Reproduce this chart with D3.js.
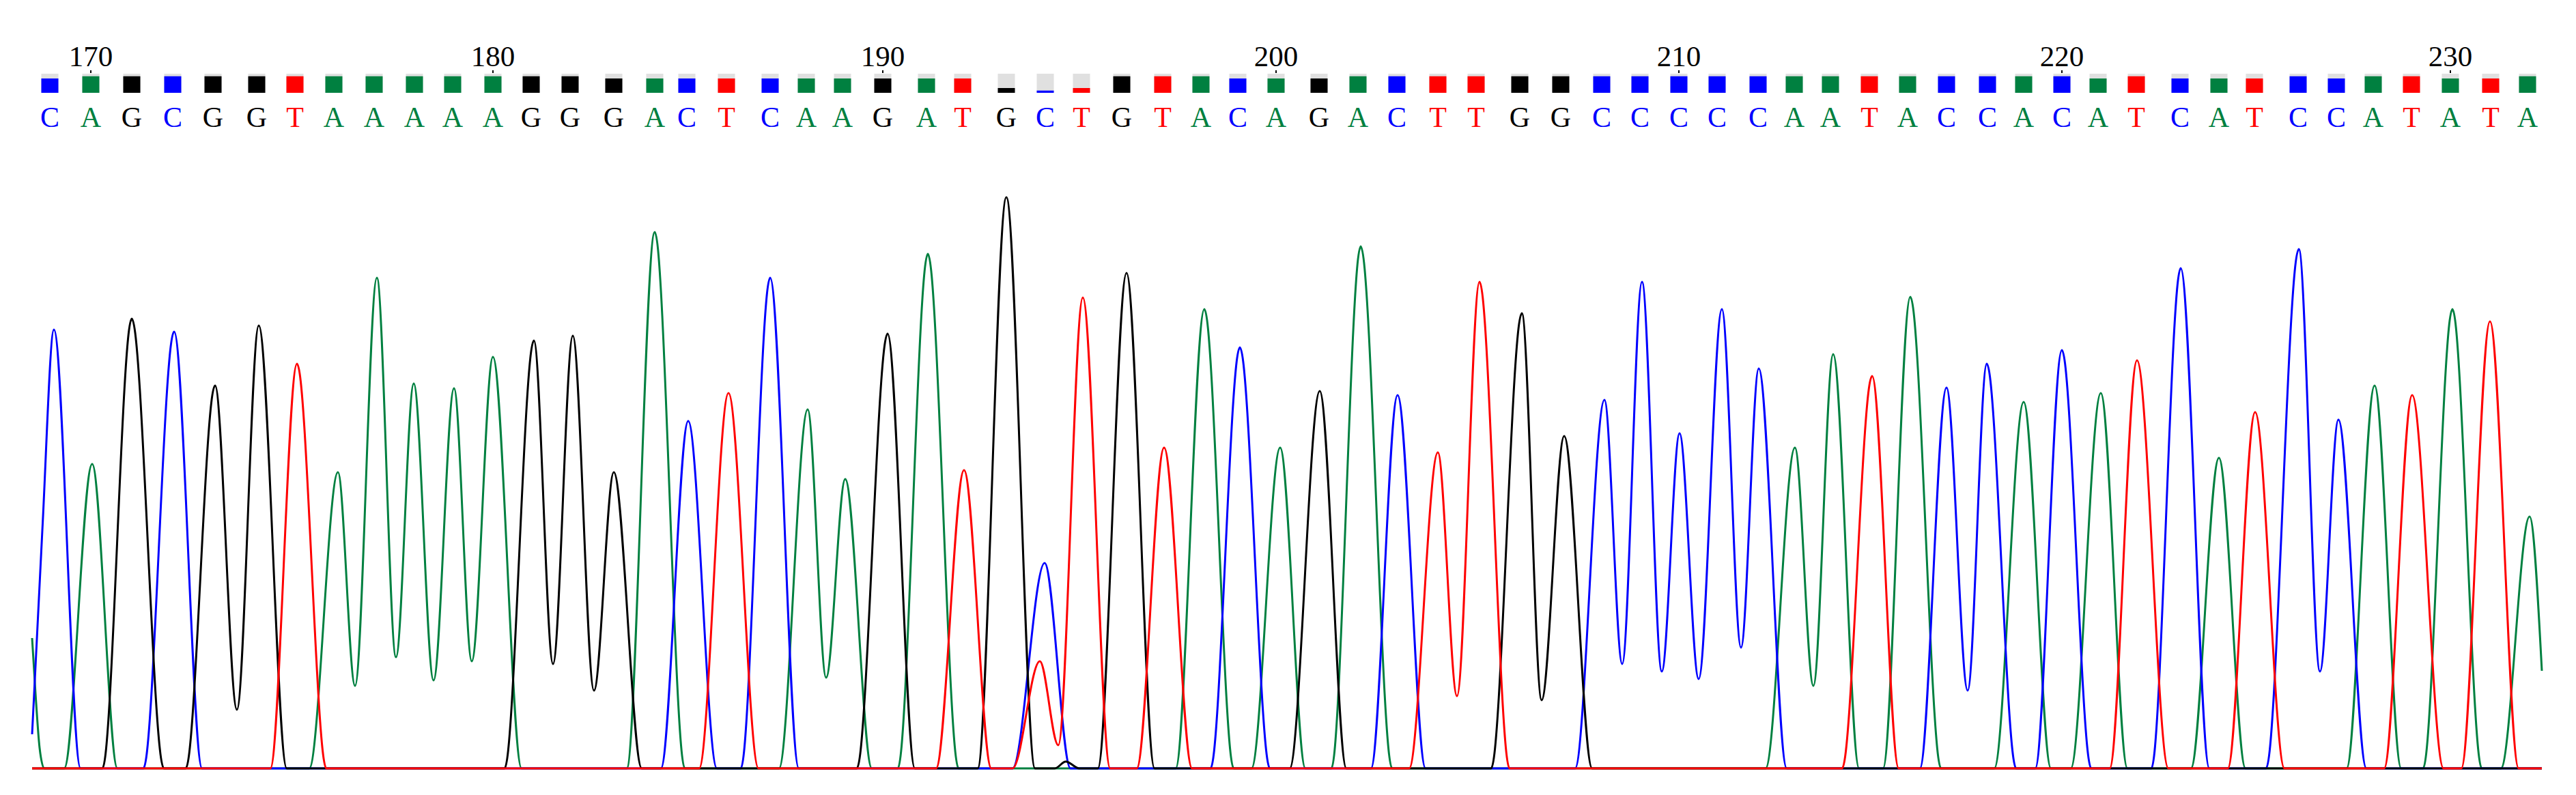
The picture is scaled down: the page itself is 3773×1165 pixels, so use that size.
<!DOCTYPE html>
<html>
<head>
<meta charset="utf-8">
<script src="https://cdn.jsdelivr.net/npm/d3@7"></script>
<style>
	body { margin: 0; background: #fff; }
</style>
</head>
<body>
<div id="chart-area"></div>
<script>

/////////////////////////
// DATA
/////////////////////////

// base calls 169 .. 232
let firstBase = 169;
let bases = "CAGCGGTAAAAAGGGACTCAAGATGCTGTACAGACTTGGCCCCCAATACCACATCATCCATATA".split("");

// scan position of each base call
let baseScan = [73,133,193,253,312,376,432,489,548,607,
	663,722,778,835,899,959,1006,1064,1128,1181,
	1234,1293,1357,1410,1474,1531,1584,1643,1703,1759,
	1813,1869,1932,1989,2046,2106,2162,2226,2286,2346,
	2402,2459,2515,2575,2628,2681,2738,2794,2851,2911,
	2964,3020,3073,3129,3193,3250,3302,3366,3422,3476,
	3532,3589,3648,3702];

// quality value of each call
let quality = [45,52,52,52,52,52,52,52,52,52,
	52,52,52,52,45,45,45,45,45,45,
	45,45,45,45,15,7,15,52,52,52,
	45,45,45,52,52,52,52,52,52,52,
	52,52,52,52,52,52,52,52,52,52,
	52,52,45,52,45,45,45,52,45,52,
	52,45,45,52];

let tickLabels = [170, 180, 190, 200, 210, 220, 230];

// traces: [scan, signal] at feet, apexes and troughs
let traceA = [[47,191],[52,110],[58,30],[65,0],
	[94,0],[135,446],[172,0],
	[453,0],[495,434],[520,121],[552,719],[580,163],[606,564],[635,129],[665,557],[691,157],[722,603],[764,0],
	[918,0],[959,786],[1003,0],
	[1141,0],[1183,526],[1210,133],[1238,424],[1277,0],
	[1315,0],[1359,754],[1404,0],
	[1722,0],[1764,673],[1807,0],
	[1833,0],[1875,470],[1912,0],
	[1950,0],[1993,765],[2039,0],
	[2586,0],[2629,470],[2656,121],[2685,607],[2723,0],
	[2758,0],[2798,691],[2843,0],
	[2921,0],[2964,537],[3004,0],
	[3033,0],[3077,550],[3116,0],
	[3209,0],[3250,455],[3289,0],
	[3437,0],[3478,561],[3517,0],
	[3549,0],[3592,673],[3635,0],
	[3663,0],[3705,369],[3723,143]];

let traceC = [[47,50],[62,349],[79,643],[118,0],
	[210,0],[255,640],[296,0],
	[968,0],[1008,509],[1050,0],
	[1085,0],[1128,719],[1170,0],
	[1483,0],[1530,301],[1568,0],
	[1773,0],[1816,617],[1860,0],
	[2008,0],[2047,547],[2088,0],
	[2307,0],[2350,540],[2376,153],[2405,713],[2434,142],[2460,491],[2488,131],[2522,673],[2550,177],[2576,586],[2617,0],
	[2812,0],[2851,558],[2882,114],[2910,593],[2953,0],
	[2981,0],[3020,613],[3063,0],
	[3151,0],[3194,733],[3236,0],
	[3319,0],[3367,761],[3398,142],[3425,511],[3466,0],
	[3723,0]];

let traceG = [[47,0],
	[150,0],[193,659],[240,0],
	[272,0],[315,561],[347,86],[379,649],[420,0],
	[739,0],[782,627],[810,153],[839,634],[870,114],[899,434],[940,0],
	[1255,0],[1300,637],[1340,0],
	[1432,0],[1474,837],[1516,0],[1545,0],[1561,10],[1581,0],
	[1608,0],[1650,726],[1691,0],
	[1889,0],[1933,553],[1972,0],
	[2184,0],[2229,667],[2258,100],[2291,487],[2332,0],
	[3723,0]];

let traceT = [[47,0],
	[396,0],[435,593],[478,0],
	[1024,0],[1067,550],[1111,0],
	[1371,0],[1412,437],[1452,0],
	[1483,0],[1523,157],[1550,34],[1586,690],[1626,0],
	[1665,0],[1705,470],[1746,0],
	[2064,0],[2106,463],[2134,106],[2167,713],[2211,0],
	[2698,0],[2742,575],[2781,0],
	[3090,0],[3130,598],[3176,0],
	[3263,0],[3303,522],[3346,0],
	[3492,0],[3533,547],[3579,0],
	[3605,0],[3647,655],[3689,0],
	[3723,0]];


/////////////////////////
// SVG drawing area
/////////////////////////

let width = 3773,
	height = 1165;

let svg = d3.select("#chart-area").append("svg")
	.attr("width", width)
	.attr("height", height);

let baseColor = {A: "#008040", C: "#0000ff", G: "#000000", T: "#ff0000"};

let x = d3.scaleLinear()
	.domain([0, 3773])
	.range([0, width]);

let y = d3.scaleLinear()
	.domain([0, 1000])
	.range([1126, 126]);

let qHeight = d3.scaleLinear()
	.domain([0, 60])
	.range([0, 28]);

let barTop = 108,
	barWidth = 25;


/////////////////////////
// Quality bars
/////////////////////////

let calls = bases.map(function(b, i) {
	return {base: b, pos: firstBase + i, scan: baseScan[i], q: quality[i]};
});

svg.selectAll(".qbg")
	.data(calls)
	.enter()
	.append("rect")
	.attr("class", "qbg")
	.attr("x", d => x(d.scan) - barWidth / 2)
	.attr("y", barTop)
	.attr("width", barWidth)
	.attr("height", qHeight(60))
	.attr("fill", "#e0e0e0");

svg.selectAll(".qbar")
	.data(calls)
	.enter()
	.append("rect")
	.attr("class", "qbar")
	.attr("x", d => x(d.scan) - barWidth / 2)
	.attr("y", d => barTop + qHeight(60) - qHeight(d.q))
	.attr("width", barWidth)
	.attr("height", d => qHeight(d.q))
	.attr("fill", d => baseColor[d.base]);


/////////////////////////
// Position ticks and labels
/////////////////////////

let ticks = tickLabels.map(function(v) {
	return {label: v, scan: baseScan[v - firstBase]};
});

svg.selectAll(".tick")
	.data(ticks)
	.enter()
	.append("line")
	.attr("class", "tick")
	.attr("x1", d => x(d.scan))
	.attr("x2", d => x(d.scan))
	.attr("y1", 103)
	.attr("y2", 107)
	.attr("stroke", "black")
	.attr("stroke-width", 2);

svg.selectAll(".tickLab")
	.data(ticks)
	.enter()
	.append("text")
	.attr("class", "tickLab")
	.attr("x", d => x(d.scan))
	.attr("y", 97)
	.attr("text-anchor", "middle")
	.attr("font-family", "Liberation Serif, serif")
	.attr("font-size", 43)
	.attr("fill", "black")
	.text(d => d.label);


/////////////////////////
// Base letters
/////////////////////////

svg.selectAll(".baseLab")
	.data(calls)
	.enter()
	.append("text")
	.attr("class", "baseLab")
	.attr("x", d => x(d.scan))
	.attr("y", 186)
	.attr("text-anchor", "middle")
	.attr("font-family", "Liberation Serif, serif")
	.attr("font-size", 42)
	.attr("fill", d => baseColor[d.base])
	.text(d => d.base);


/////////////////////////
// Traces (A, C, G, then T on top)
/////////////////////////

const trace = d3.line()
	.x(d => x(d[0]))
	.y(d => y(d[1]))
	.curve(d3.curveMonotoneX);

let channels = [
	{base: "A", pts: traceA},
	{base: "C", pts: traceC},
	{base: "G", pts: traceG},
	{base: "T", pts: traceT}
];

svg.selectAll(".trace")
	.data(channels)
	.enter()
	.append("path")
	.attr("class", "trace")
	.attr("d", d => trace(d.pts))
	.attr("fill", "none")
	.attr("stroke", d => baseColor[d.base])
	.attr("stroke-width", 3)
	.attr("stroke-linejoin", "round");

</script>
</body>
</html>
